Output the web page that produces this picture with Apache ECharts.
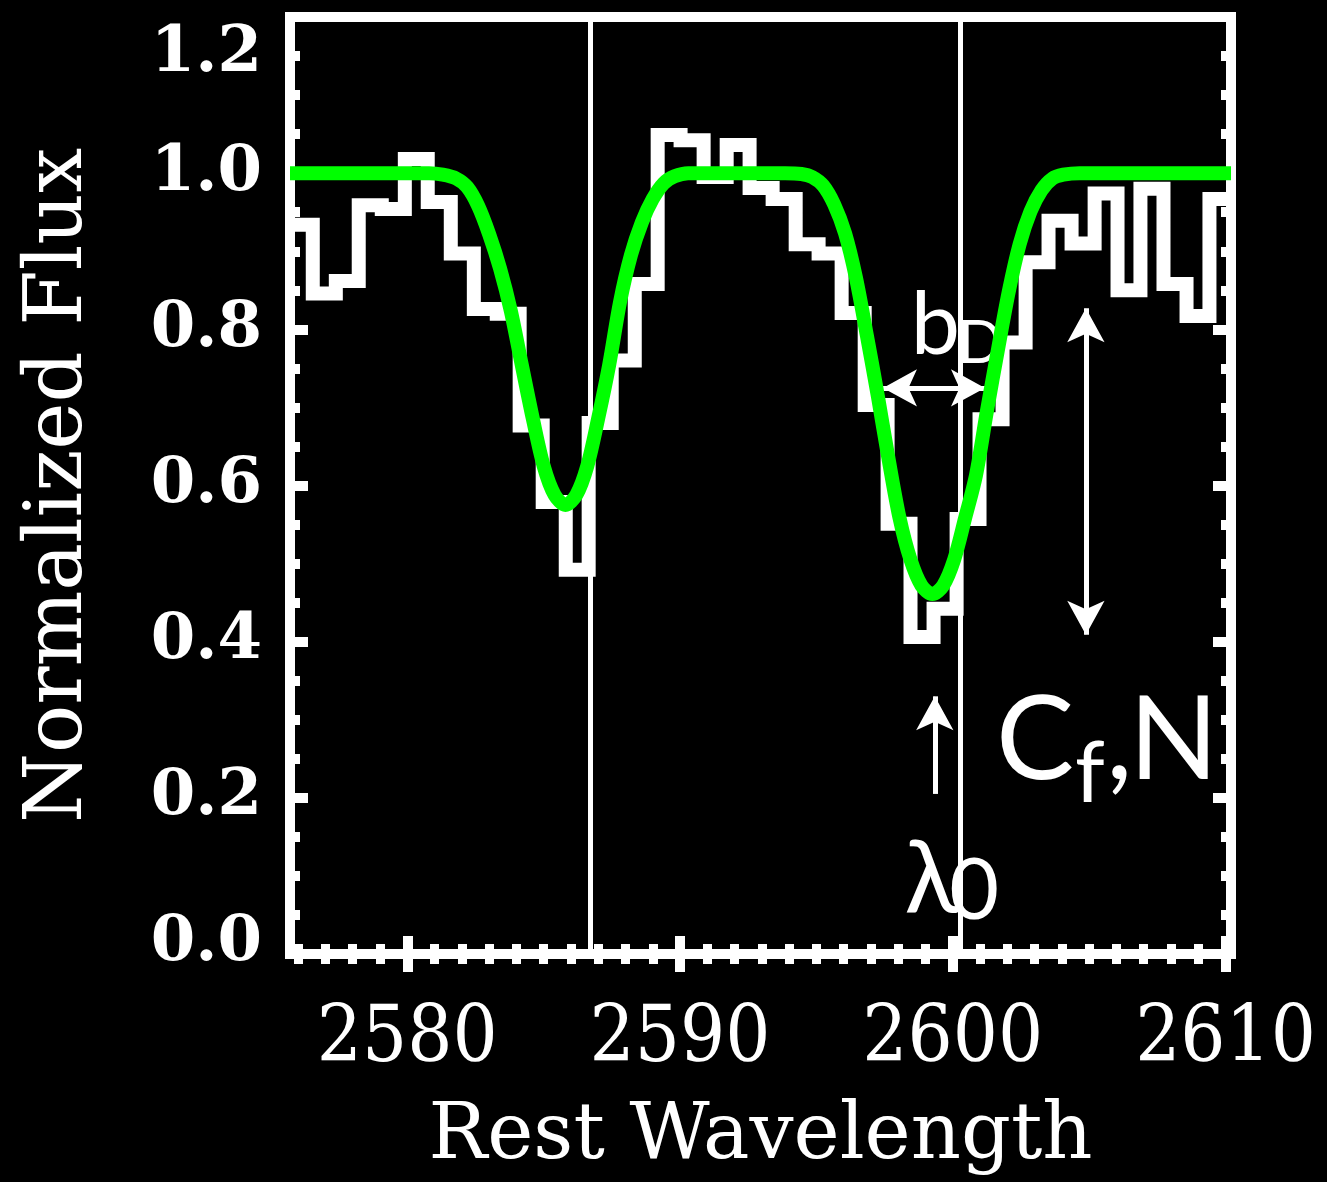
<!DOCTYPE html>
<html>
<head>
<meta charset="utf-8">
<script src="https://cdn.jsdelivr.net/npm/echarts@6/dist/echarts.min.js"></script>
<style>
  html, body { margin: 0; padding: 0; background: #000; }
  #chart { width: 1327px; height: 1182px; }
</style>
</head>
<body>
<div id="chart"></div>
<script>
// Spectrum pixels: centre wavelength (Å) and normalised flux of each pixel.
// The first and last entries pin the edge pixels to the window edges.
const pixelWave = [
  2575.70, 2576.11, 2576.96, 2577.80, 2578.64, 2579.49, 2580.33, 2581.17, 2582.02, 2582.86,
  2583.70, 2584.54, 2585.39, 2586.23, 2587.07, 2587.92, 2588.76, 2589.60, 2590.44, 2591.29,
  2592.13, 2592.97, 2593.82, 2594.66, 2595.50, 2596.35, 2597.19, 2598.03, 2598.87, 2599.72,
  2600.56, 2601.40, 2602.25, 2603.09, 2603.93, 2604.78, 2605.62, 2606.46, 2607.30, 2608.15,
  2608.99, 2609.83, 2610.20
];
const pixelFlux = [
  0.934, 0.934, 0.846, 0.862, 0.959, 0.954, 1.018, 0.963, 0.897, 0.826,
  0.820, 0.677, 0.579, 0.492, 0.680, 0.760, 0.858, 1.049, 1.042, 0.995,
  1.036, 0.981, 0.967, 0.909, 0.897, 0.821, 0.703, 0.551, 0.406, 0.442,
  0.557, 0.685, 0.783, 0.886, 0.939, 0.910, 0.974, 0.850, 0.980, 0.858,
  0.817, 0.967, 0.967
];

// Fitted absorption model across both Fe II troughs
const modelWave = [
  2575.70, 2578.00, 2580.30, 2580.80, 2581.30, 2581.80, 2582.20, 2582.60, 2583.00, 2583.40,
  2583.80, 2584.20, 2584.60, 2585.00, 2585.40, 2585.80, 2586.20, 2586.60, 2587.00, 2587.40,
  2587.80, 2588.20, 2588.60, 2589.00, 2589.40, 2589.80, 2590.30, 2592.00, 2593.85, 2594.45,
  2594.85, 2595.25, 2595.65, 2596.05, 2596.45, 2596.85, 2597.25, 2597.65, 2598.05, 2598.45,
  2598.85, 2599.25, 2599.65, 2600.05, 2600.45, 2600.85, 2601.25, 2601.65, 2602.05, 2602.45,
  2602.85, 2603.25, 2603.65, 2604.05, 2604.65, 2607.00, 2610.20
];
const modelFlux = [
  1.000, 1.000, 1.000, 1.000, 0.998, 0.993, 0.982, 0.958, 0.922, 0.878,
  0.823, 0.754, 0.686, 0.625, 0.588, 0.575, 0.588, 0.625, 0.686, 0.754,
  0.835, 0.895, 0.937, 0.967, 0.987, 0.996, 1.000, 1.000, 1.000, 0.999,
  0.995, 0.984, 0.960, 0.923, 0.866, 0.792, 0.715, 0.633, 0.558, 0.505,
  0.472, 0.461, 0.472, 0.505, 0.558, 0.613, 0.695, 0.773, 0.848, 0.909,
  0.951, 0.978, 0.993, 0.998, 1.000, 1.000, 1.000
];

// Rest wavelengths of the Fe II 2586 and Fe II 2600 transitions, as marked
const restLines = [2586.70, 2600.28];

// Axis ranges and labelled ticks
const xRange = [2575.7, 2610.2];
const xTickLabels = [2580, 2590, 2600, 2610];
const yRange = [0, 1.2];
const yTickLabels = ['0.0', '0.2', '0.4', '0.6', '0.8', '1.0', '1.2'];

// Annotation arrows (tip to tip) and text pieces
const arrows = [
  { from: [2597.44, 0.725], to: [2601.18, 0.725], heads: ['arrow', 'arrow'] },
  { from: [2604.88, 0.827], to: [2604.88, 0.409], heads: ['arrow', 'arrow'] },
  { from: [2599.34, 0.205], to: [2599.34, 0.330], heads: ['none', 'arrow'] }
];
const notes = [
  { at: [2599.36, 0.805], text: 'b', size: 88 },
  { at: [2601.00, 0.782], text: 'D', size: 60 },
  { at: [2599.22, 0.095], text: 'λ', size: 100 },
  { at: [2600.78, 0.080], text: '0', size: 86 },
  { at: [2603.02, 0.273], text: 'C', size: 117 },
  { at: [2605.03, 0.230], text: 'f', size: 85 },
  { at: [2606.10, 0.273], text: ',', size: 117 },
  { at: [2608.10, 0.273], text: 'N', size: 117 }
];

const WHITE = '#ffffff';
const GREEN = '#00ff00';
const serifFont = "'DejaVu Serif', serif";
const noteFont = "Lato, 'Noto Sans', sans-serif";

const zip = (xs, ys) => xs.map((x, i) => [x, ys[i]]);

function xAxisFor(position, showLabels) {
  return {
    type: 'value',
    position: position,
    min: xRange[0],
    max: xRange[1],
    minInterval: 10,
    maxInterval: 10,
    splitLine: { show: false },
    axisLine: { show: false },
    axisTick: {
      show: true, inside: true, length: 18,
      customValues: xTickLabels,
      lineStyle: { color: WHITE, width: 10 }
    },
    minorTick: { show: true, splitNumber: 10, length: 10, lineStyle: { color: WHITE, width: 9 } },
    minorSplitLine: { show: false },
    axisLabel: {
      show: showLabels,
      customValues: xTickLabels,
      margin: 47,
      color: WHITE,
      fontSize: 79,
      fontFamily: "'DejaVu Serif Condensed', 'DejaVu Serif', serif",
      formatter: v => String(Math.round(v))
    },
    name: showLabels ? 'Rest Wavelength' : '',
    nameLocation: 'middle',
    nameGap: 145,
    nameTextStyle: { color: WHITE, fontSize: 78, fontFamily: serifFont }
  };
}

function yAxisFor(position, showLabels) {
  return {
    type: 'value',
    position: position,
    min: yRange[0],
    max: yRange[1],
    interval: 0.2,
    splitLine: { show: false },
    axisLine: { show: false },
    axisTick: { show: true, inside: true, length: 18, lineStyle: { color: WHITE, width: 10 } },
    minorTick: { show: true, splitNumber: 4, length: 10, lineStyle: { color: WHITE, width: 10 } },
    minorSplitLine: { show: false },
    axisLabel: {
      show: showLabels,
      margin: 28,
      color: WHITE,
      fontSize: 64,
      fontWeight: 'bold',
      fontFamily: serifFont,
      verticalAlignMinLabel: 'bottom',
      verticalAlignMaxLabel: 'top',
      formatter: v => {
        const i = Math.round(v / 0.2);
        const t = yTickLabels[i] || '';
        if (i === 0) return '{lo|' + t + '}';
        if (i === yTickLabels.length - 1) return '{hi|' + t + '}';
        return t;
      },
      rich: {
        lo: { lineHeight: 22, fontSize: 64, fontWeight: 'bold', fontFamily: serifFont, color: WHITE },
        hi: { lineHeight: 74, fontSize: 64, fontWeight: 'bold', fontFamily: serifFont, color: WHITE }
      }
    },
    name: showLabels ? 'Normalized Flux' : '',
    nameLocation: 'middle',
    nameRotate: 90,
    nameGap: 190,
    nameTextStyle: { color: WHITE, fontSize: 80, fontFamily: serifFont }
  };
}

const chart = echarts.init(document.getElementById('chart'), null, { renderer: 'canvas' });

chart.setOption({
  backgroundColor: '#000000',
  animation: false,
  grid: {
    left: 290, top: 17, right: 96, bottom: 223,
    show: true, borderColor: WHITE, borderWidth: 10, backgroundColor: 'transparent'
  },
  xAxis: [xAxisFor('bottom', true), xAxisFor('top', false)],
  yAxis: [yAxisFor('left', true), yAxisFor('right', false)],
  series: [
    {
      name: 'spectrum',
      type: 'line',
      step: 'middle',
      data: zip(pixelWave, pixelFlux),
      showSymbol: false,
      clip: true,
      z: 2,
      lineStyle: { color: WHITE, width: 14, join: 'miter', cap: 'butt' }
    },
    {
      name: 'rest wavelengths',
      type: 'line',
      data: [],
      z: 3,
      markLine: {
        silent: true,
        symbol: ['none', 'none'],
        label: { show: false },
        lineStyle: { color: WHITE, width: 5, type: 'solid' },
        data: restLines.map(x => ({ xAxis: x }))
      }
    },
    {
      name: 'arrows',
      type: 'line',
      data: [],
      z: 4,
      markLine: {
        silent: true,
        symbolSize: [28, 34],
        label: { show: false },
        lineStyle: { color: WHITE, width: 5, type: 'solid', opacity: 1 },
        itemStyle: { color: WHITE },
        data: arrows.map(a => [
          { coord: a.from, symbol: a.heads[0] },
          { coord: a.to, symbol: a.heads[1] }
        ])
      }
    },
    {
      name: 'notes',
      type: 'scatter',
      symbolSize: 0,
      z: 5,
      silent: true,
      itemStyle: { opacity: 1 },
      data: notes.map(n => ({
        value: n.at,
        label: {
          show: true,
          position: 'inside',
          formatter: n.text,
          color: WHITE,
          opacity: 1,
          fontSize: n.size,
          fontFamily: noteFont,
          align: 'center',
          verticalAlign: 'middle'
        }
      }))
    },
    {
      name: 'model',
      type: 'line',
      data: zip(modelWave, modelFlux),
      smooth: 0.3,
      showSymbol: false,
      z: 6,
      lineStyle: { color: GREEN, width: 14, cap: 'butt', join: 'round' }
    }
  ]
});
</script>
</body>
</html>
